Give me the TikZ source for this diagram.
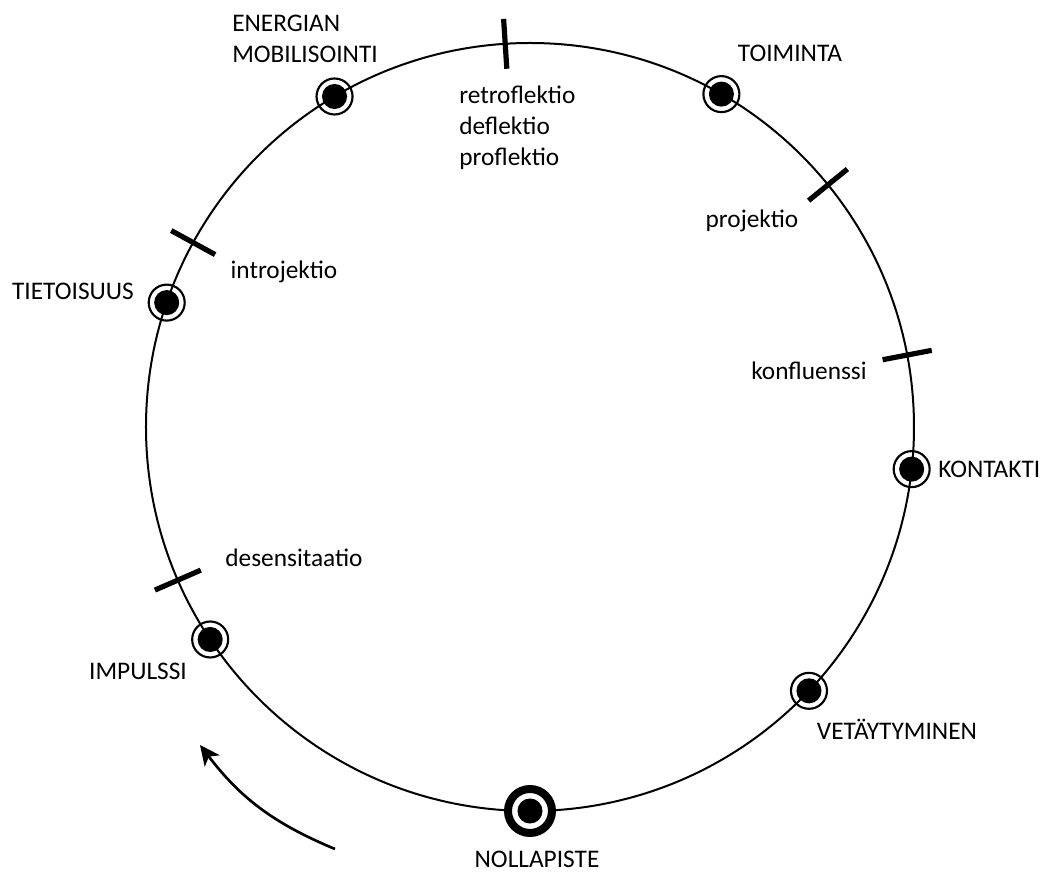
\documentclass[tikz,border=0pt]{standalone}
\usepackage{fontspec}
\setmainfont{Carlito}
\usetikzlibrary{arrows.meta,positioning,calc}
\tikzset{
  cycle line/.style={line width=1.5pt,draw=black},
  stage mark/.style={circle,draw=black,line width=1.6pt,minimum size=27pt,inner sep=0pt,
    path picture={\fill[black] (path picture bounding box.center) circle (9.4pt);}},
  zero mark/.style={stage mark,fill=white,line width=6pt,minimum size=33pt},
  boundary tick/.style={line width=3.9pt,draw=black},
  stage label/.style={inner sep=0pt,font=\fontsize{19}{23}\selectfont,align=left},
  cycle arrow/.style={-{Stealth[length=15pt,width=14pt,inset=4pt]},line width=2pt,draw=black}
}
\begin{document}
\begin{tikzpicture}[x=0.75pt,y=0.75pt]
\useasboundingbox (-530,-450) rectangle (524,427);
\draw[cycle line] (0,0) circle (384);
\draw[boundary tick] (93.7:359) -- (93.7:409);
\draw[boundary tick] (39.1:359) -- (39.1:409);
\draw[boundary tick] (10.8:359) -- (10.8:409);
\draw[boundary tick] (151.3:359) -- (151.3:409);
\draw[boundary tick] (203.5:359) -- (203.5:409);
\node[stage mark] (energy) at (120.6:384) {};
\node[stage mark] (action) at (60.1:384) {};
\node[stage mark] (awareness) at (161.1:384) {};
\node[stage mark] (contact) at (-6.3:384) {};
\node[stage mark] (impulse) at (213.6:384) {};
\node[stage mark] (withdrawal) at (-43.4:384) {};
\node[zero mark] (zero) at (-90:384) {};
\node[stage label,anchor=north west] (energy text) at (-298,412) {ENERGIAN\\MOBILISOINTI};
\node[stage label,anchor=base] (action text) at (260,365) {TOIMINTA};
\node[stage label,anchor=base] (awareness text) at (-457,127) {TIETOISUUS};
\node[stage label,anchor=base west] (contact text) at (408,-51) {KONTAKTI};
\node[stage label,anchor=base] (impulse text) at (-392,-253) {IMPULSSI};
\node[stage label,anchor=base] (withdrawal text) at (367,-313) {VETÄYTYMINEN};
\node[stage label,anchor=base] (zero text) at (7,-441) {NOLLAPISTE};
\node[stage label,anchor=north west] (flexion text) at (-71,341) {retroflektio\\deflektio\\proflektio};
\node[stage label,anchor=base] (projection text) at (222,199) {projektio};
\node[stage label,anchor=base] (confluence text) at (279,47) {konfluenssi};
\node[stage label,anchor=base] (introjection text) at (-246,148) {introjektio};
\node[stage label,anchor=base] (desensitization text) at (-236,-140) {desensitaatio};
\coordinate (arrow start) at (-195,-422);
\coordinate (arrow end) at (-330,-318);
\draw[cycle arrow] (arrow start) to[bend left=15] (arrow end);
\end{tikzpicture}
\end{document}
